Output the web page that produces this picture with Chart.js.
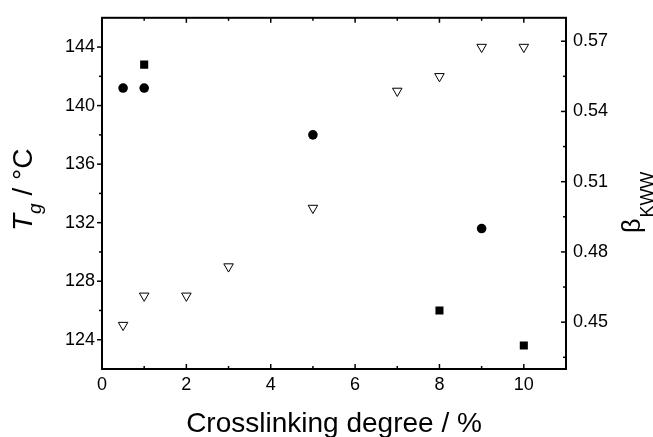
<!DOCTYPE html>
<html lang="en">
<head>
<meta charset="UTF-8">
<title>Tg and beta vs crosslinking</title>
<script src="https://cdn.jsdelivr.net/npm/chart.js"></script>
<style>
  html, body { margin: 0; padding: 0; background: #fff; }
  #wrap { width: 653px; height: 437px; }
</style>
</head>
<body>
<div id="wrap"><canvas id="grafico" width="653" height="437"></canvas></div>

<script>
// Tg (left axis), open down triangles
var grauTg = [0.5, 1, 2, 3, 5, 7, 8, 9, 10];
var valoresTg = [125, 127, 127, 129, 133, 141, 142, 144, 144];

// beta KWW (right axis), filled circles
var grauCirculo = [0.5, 1, 5, 9];
var betaCirculo = [0.55, 0.55, 0.53, 0.49];

// beta KWW (right axis), filled squares
var grauQuadrado = [1, 8, 10];
var betaQuadrado = [0.56, 0.455, 0.44];

// ticks
var ticksX = [0, 2, 4, 6, 8, 10];
var minorX = [1, 3, 5, 7, 9];
var ticksTg = [124, 128, 132, 136, 140, 144];
var minorTg = [126, 130, 134, 138, 142];
var ticksBeta = [0.45, 0.48, 0.51, 0.54, 0.57];
var minorBeta = [0.435, 0.465, 0.495, 0.525, 0.555];

var fonte = "'Liberation Sans', Arial, sans-serif";

function pares(xs, ys) {
    var out = [];
    for (var i = 0; i < xs.length; i++) out.push({ x: xs[i], y: ys[i] });
    return out;
}

function fixarTicks(lista) {
    return function (scale) {
        scale.ticks = lista.map(function (v) { return { value: v }; });
    };
}

// frame, tick marks and axis titles
var moldura = {
    id: 'moldura',
    afterDraw: function (chart) {
        var ctx = chart.ctx;
        var a = chart.chartArea;
        var sx = chart.scales.x, sl = chart.scales.yTg, sr = chart.scales.yBeta;
        ctx.save();
        ctx.strokeStyle = '#000';
        ctx.lineWidth = 2;
        ctx.strokeRect(a.left, a.top, a.right - a.left, a.bottom - a.top);

        ctx.lineWidth = 1.5;
        function linha(x1, y1, x2, y2) {
            ctx.beginPath(); ctx.moveTo(x1, y1); ctx.lineTo(x2, y2); ctx.stroke();
        }
        ticksX.forEach(function (v) {
            var p = sx.getPixelForValue(v);
            linha(p, a.bottom, p, a.bottom - 5);
            linha(p, a.top, p, a.top + 5);
        });
        minorX.forEach(function (v) {
            var p = sx.getPixelForValue(v);
            linha(p, a.bottom, p, a.bottom - 3);
            linha(p, a.top, p, a.top + 3);
        });
        ticksTg.forEach(function (v) {
            var p = sl.getPixelForValue(v);
            linha(a.left, p, a.left - 5, p);
        });
        minorTg.forEach(function (v) {
            var p = sl.getPixelForValue(v);
            linha(a.left, p, a.left - 3, p);
        });
        ticksBeta.forEach(function (v) {
            var p = sr.getPixelForValue(v);
            linha(a.right, p, a.right - 5, p);
        });
        minorBeta.forEach(function (v) {
            var p = sr.getPixelForValue(v);
            linha(a.right, p, a.right - 3, p);
        });

        ctx.fillStyle = '#000';
        ctx.textBaseline = 'alphabetic';

        // x title
        ctx.font = '28px ' + fonte;
        ctx.textAlign = 'center';
        ctx.fillText('Crosslinking degree / %', (a.left + a.right) / 2, 432);

        // left title: T_g / °C
        ctx.textAlign = 'left';
        ctx.save();
        ctx.translate(32, 231);
        ctx.rotate(-Math.PI / 2);
        var x = 0;
        ctx.font = 'italic 28px ' + fonte;
        ctx.fillText('T', x, 0);
        x += ctx.measureText('T').width;
        ctx.font = 'italic 19px ' + fonte;
        ctx.fillText('g', x, 9);
        x += ctx.measureText('g').width;
        ctx.font = '28px ' + fonte;
        ctx.fillText(' / \u00B0C', x, 0);
        ctx.restore();

        // right title: beta_KWW
        ctx.save();
        ctx.translate(640, 233);
        ctx.rotate(-Math.PI / 2);
        ctx.font = '25px ' + fonte;
        ctx.fillText('\u03B2', 0, 0);
        var w = ctx.measureText('\u03B2').width;
        ctx.font = '18px ' + fonte;
        ctx.fillText('KWW', w + 1, 13);
        ctx.restore();

        ctx.restore();
    }
};

new Chart(document.getElementById('grafico'), {
    type: 'scatter',
    data: {
        datasets: [{
            label: 'Tg',
            data: pares(grauTg, valoresTg),
            yAxisID: 'yTg',
            pointStyle: 'triangle',
            rotation: 180,
            radius: 5.5,
            backgroundColor: '#fff',
            borderColor: '#000',
            borderWidth: 1
        }, {
            label: 'beta circulos',
            data: pares(grauCirculo, betaCirculo),
            yAxisID: 'yBeta',
            pointStyle: 'circle',
            radius: 4.8,
            backgroundColor: '#000',
            borderColor: '#000',
            borderWidth: 0
        }, {
            label: 'beta quadrados',
            data: pares(grauQuadrado, betaQuadrado),
            yAxisID: 'yBeta',
            pointStyle: 'rect',
            radius: 5.7,
            backgroundColor: '#000',
            borderColor: '#000',
            borderWidth: 0
        }]
    },
    options: {
        responsive: false,
        animation: false,
        devicePixelRatio: 1,
        layout: { padding: { top: 12, left: 0, right: 0, bottom: 0 } },
        plugins: { legend: { display: false }, tooltip: { enabled: false } },
        scales: {
            x: {
                type: 'linear', min: 0, max: 11,
                grid: { display: false, drawTicks: false },
                border: { display: false },
                afterBuildTicks: fixarTicks(ticksX),
                afterFit: function (s) { s.height = 68; },
                ticks: { color: '#000', padding: 5, maxRotation: 0, font: { size: 18, family: fonte } }
            },
            yTg: {
                type: 'linear', position: 'left', min: 122, max: 146,
                grid: { display: false, drawTicks: false },
                border: { display: false },
                afterBuildTicks: fixarTicks(ticksTg),
                afterFit: function (s) { s.width = 102; },
                ticks: { color: '#000', padding: 7, font: { size: 18, family: fonte } }
            },
            yBeta: {
                type: 'linear', position: 'right', min: 0.43, max: 0.58,
                grid: { display: false, drawTicks: false },
                border: { display: false },
                afterBuildTicks: fixarTicks(ticksBeta),
                afterFit: function (s) { s.width = 87; },
                ticks: {
                    color: '#000', padding: 7, font: { size: 18, family: fonte },
                    callback: function (v) { return v.toFixed(2); }
                }
            }
        }
    },
    plugins: [moldura]
});
</script>
</body>
</html>
